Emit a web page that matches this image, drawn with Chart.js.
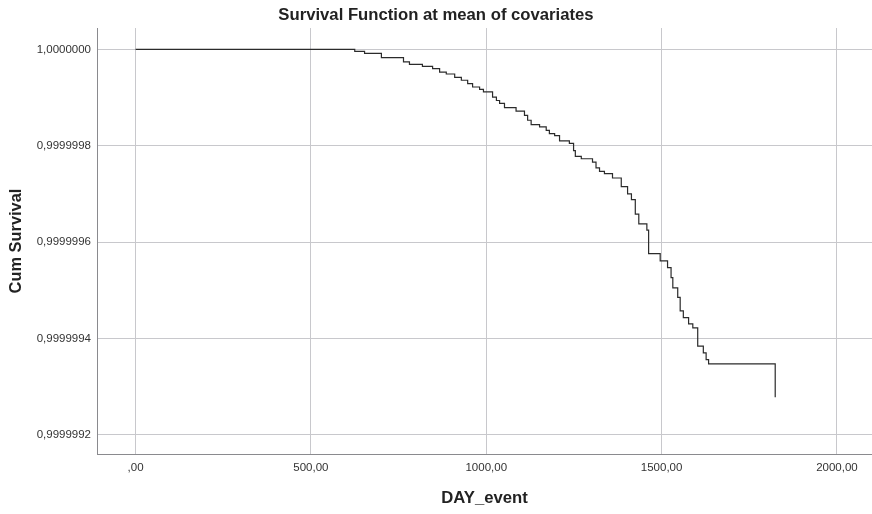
<!DOCTYPE html>
<html>
<head>
<meta charset="utf-8">
<script src="https://cdn.jsdelivr.net/npm/chart.js@4.4.1/dist/chart.umd.min.js"></script>
<style>
  html, body { margin: 0; padding: 0; background: #fff; }
  #wrap { width: 872px; height: 514px; position: relative; }
</style>
</head>
<body>
<div id="wrap"><canvas id="survChart" width="872" height="514"></canvas></div>
<script>
// Tiempos de evento (días) y supervivencia acumulada
const days = [0, 625, 653, 701, 764, 781, 818, 847, 867, 886, 910, 929, 947, 961, 981, 992,
  1018, 1029, 1038, 1052, 1085, 1109, 1118, 1128, 1152, 1171, 1180, 1195, 1209, 1237, 1249,
  1254, 1271, 1303, 1313, 1323, 1337, 1360, 1385, 1403, 1414, 1425, 1435, 1458, 1463, 1496,
  1517, 1527, 1532, 1546, 1553, 1562, 1577, 1589, 1603, 1619, 1627, 1634, 1824];
const survival = [1.0, 0.999999996, 0.999999992, 0.999999983, 0.999999974, 0.999999969,
  0.999999965, 0.999999960, 0.999999953, 0.999999949, 0.999999942, 0.999999936, 0.999999929,
  0.999999922, 0.999999917, 0.999999912, 0.999999901, 0.999999894, 0.999999888, 0.999999879,
  0.999999872, 0.999999863, 0.999999853, 0.999999844, 0.999999839, 0.999999832, 0.999999825,
  0.999999821, 0.999999810, 0.999999805, 0.999999790, 0.999999778, 0.999999773, 0.999999766,
  0.999999754, 0.999999747, 0.999999742, 0.999999733, 0.999999715, 0.999999700, 0.999999688,
  0.999999658, 0.999999638, 0.999999625, 0.999999576, 0.999999561, 0.999999547, 0.999999526,
  0.999999505, 0.999999485, 0.999999457, 0.999999443, 0.999999430, 0.999999422, 0.999999384,
  0.999999370, 0.999999356, 0.999999347, 0.999999278];

const xTicks = [0, 500, 1000, 1500, 2000];
const yTicks = [0.9999992, 0.9999994, 0.9999996, 0.9999998, 1.0];

const FONT = '"Liberation Sans", Arial, sans-serif';

const points = days.map((d, i) => ({ x: d, y: survival[i] }));

new Chart(document.getElementById('survChart'), {
  type: 'line',
  data: {
    datasets: [{
      data: points,
      stepped: true,
      borderColor: '#2b2b2b',
      borderWidth: 1.2,
      pointRadius: 0,
      fill: false
    }]
  },
  options: {
    responsive: false,
    animation: false,
    layout: { padding: 0 },
    plugins: {
      legend: { display: false },
      tooltip: { enabled: false },
      title: {
        display: true,
        text: 'Survival Function at mean of covariates',
        color: '#222',
        font: { family: FONT, size: 16.7, weight: 'bold' },
        padding: { top: 5, bottom: 3 }
      }
    },
    scales: {
      x: {
        type: 'linear',
        min: -110,
        max: 2100,
        afterBuildTicks: s => { s.ticks = xTicks.map(v => ({ value: v })); },
        afterFit: s => { s.height = 60; },
        grid: { color: '#c8c8cc', drawTicks: false },
        border: { display: true, color: '#8a8a8e', width: 1 },
        ticks: {
          padding: 7,
          color: '#333',
          font: { family: FONT, size: 11.5 },
          maxRotation: 0,
          callback: v => v === 0 ? ',00' : v.toFixed(2).replace('.', ',')
        },
        title: {
          display: true,
          text: 'DAY_event',
          color: '#222',
          font: { family: FONT, size: 16.7, weight: 'bold' },
          padding: { top: 0, bottom: 6 }
        }
      },
      y: {
        type: 'linear',
        min: 0.99999916,
        max: 1.0000000444,
        afterBuildTicks: s => { s.ticks = yTicks.map(v => ({ value: v })); },
        afterFit: s => { s.width = 97; },
        grid: { color: '#c8c8cc', drawTicks: false },
        border: { display: true, color: '#8a8a8e', width: 1 },
        ticks: {
          padding: 6,
          color: '#333',
          font: { family: FONT, size: 11.5 },
          callback: v => v.toFixed(7).replace('.', ',')
        },
        title: {
          display: true,
          text: 'Cum Survival',
          color: '#222',
          font: { family: FONT, size: 16.4, weight: 'bold' },
          padding: { top: 7, bottom: 0 }
        }
      }
    }
  }
});
</script>
</body>
</html>
